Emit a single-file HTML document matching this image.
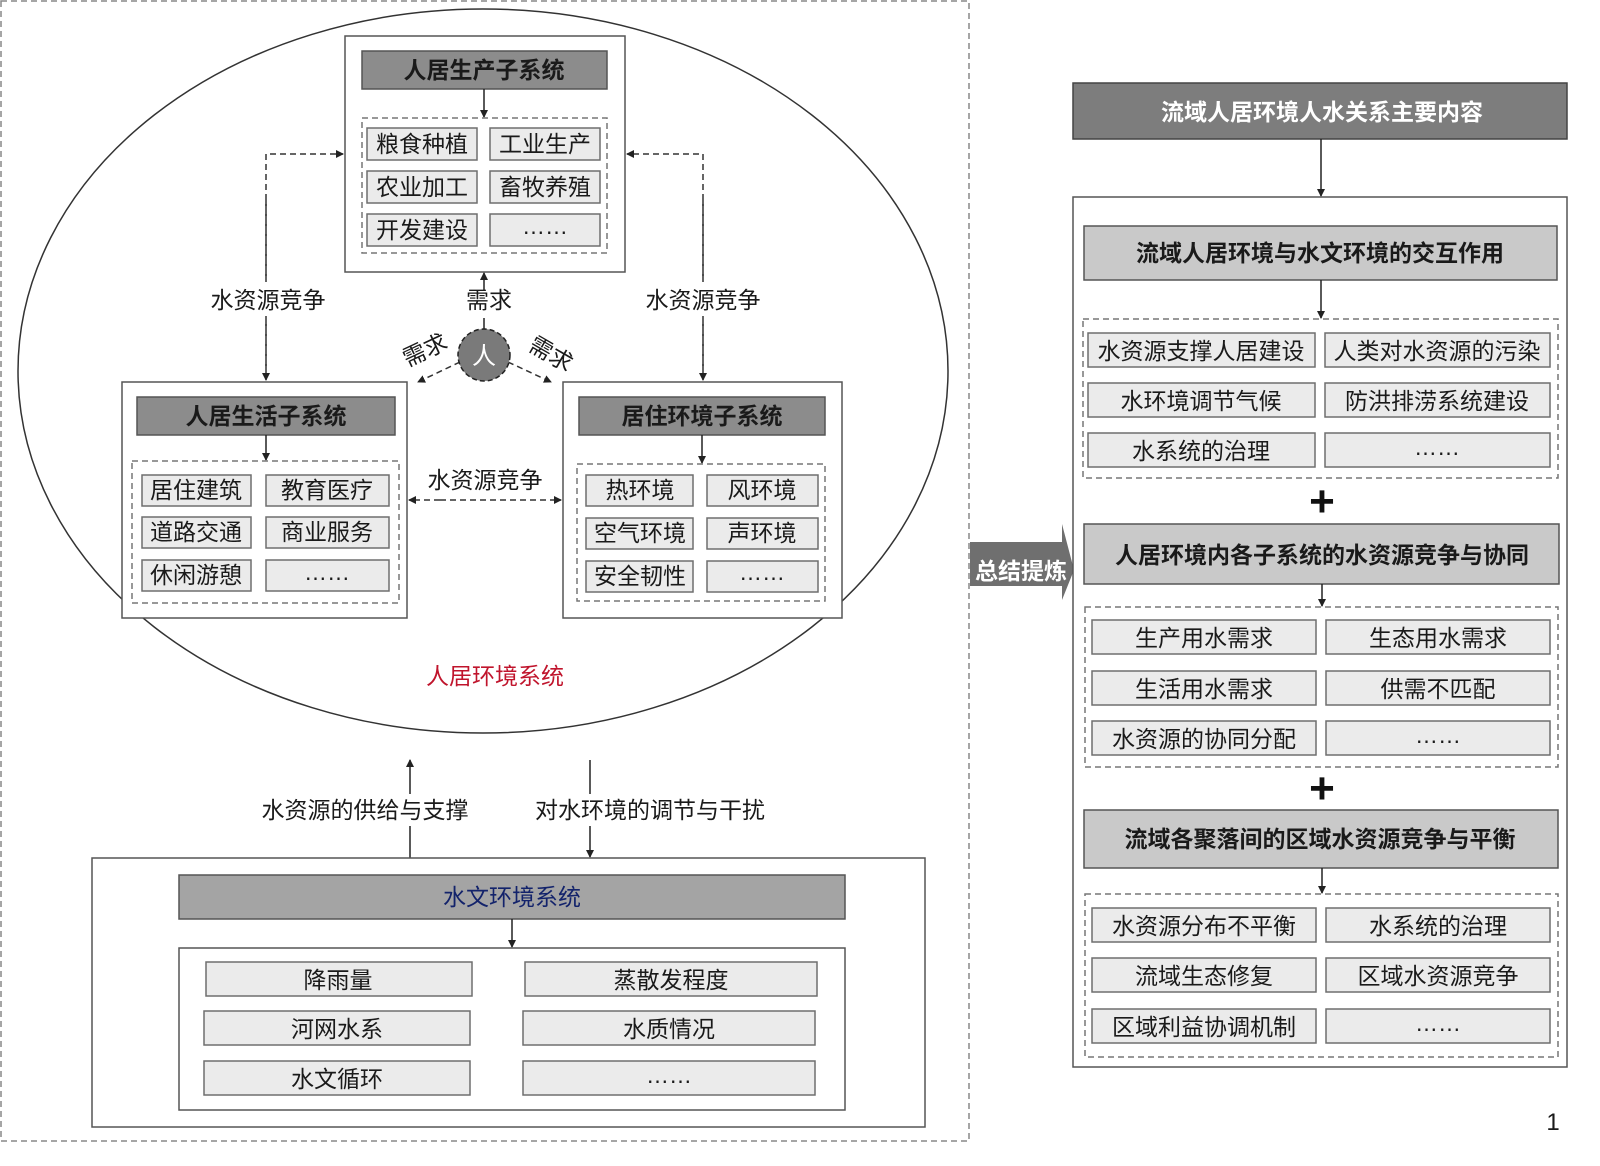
<!DOCTYPE html>
<html><head><meta charset="utf-8"><style>
html,body{margin:0;padding:0;background:#fff;}
svg{display:block;}
text{font-family:"Liberation Sans","Noto Sans CJK SC",sans-serif;fill:#1a1a1a;}
.c{fill:#ebebeb;stroke:#6e6e6e;stroke-width:1.5;}
.ct{font-size:23px;text-anchor:middle;}
.t{fill:#8c8c8c;stroke:#555;stroke-width:1.5;}
.tt{font-size:23px;font-weight:bold;text-anchor:middle;}
.h{fill:#c9c9c9;stroke:#555;stroke-width:1.5;}
.box{fill:#fff;stroke:#555;stroke-width:1.5;}
.dbox{fill:none;stroke:#777;stroke-width:1.5;stroke-dasharray:6,4;}
.ln{stroke:#222;stroke-width:1.5;fill:none;}
.dl{stroke:#333;stroke-width:1.5;fill:none;stroke-dasharray:6,4;}
.lb{font-size:23px;text-anchor:middle;}
</style></head><body>
<svg width="1600" height="1166" viewBox="0 0 1600 1166" xmlns="http://www.w3.org/2000/svg">
<defs>
<marker id="a" markerWidth="8" markerHeight="8" refX="7" refY="4" orient="auto" markerUnits="userSpaceOnUse"><path d="M0,0 L8,4 L0,8 z" fill="#222"/></marker>
</defs>
<rect x="1" y="1" width="968" height="1140" fill="none" stroke="#888" stroke-width="1.5" stroke-dasharray="6,4"/>
<ellipse cx="483" cy="371" rx="465" ry="362" fill="none" stroke="#333" stroke-width="1.5"/>

<rect class="box" x="345" y="36" width="280" height="236"/>
<rect class="t" x="362" y="51" width="245" height="38"/>
<text class="tt" x="484" y="78">人居生产子系统</text>
<line class="ln" x1="484" y1="89" x2="484" y2="117" marker-end="url(#a)"/>
<rect class="dbox" x="362" y="118" width="245" height="135"/>
<rect class="c" x="367" y="128" width="110" height="32"/><text class="ct" x="422" y="152">粮食种植</text>
<rect class="c" x="490" y="128" width="110" height="32"/><text class="ct" x="545" y="152">工业生产</text>
<rect class="c" x="367" y="171" width="110" height="32"/><text class="ct" x="422" y="195">农业加工</text>
<rect class="c" x="490" y="171" width="110" height="32"/><text class="ct" x="545" y="195">畜牧养殖</text>
<rect class="c" x="367" y="214" width="110" height="32"/><text class="ct" x="422" y="238">开发建设</text>
<rect class="c" x="490" y="214" width="110" height="32"/><text class="ct" x="545" y="234">……</text>

<rect class="box" x="122" y="382" width="285" height="236"/>
<rect class="t" x="137" y="397" width="258" height="38"/>
<text class="tt" x="266" y="424">人居生活子系统</text>
<line class="ln" x1="266" y1="435" x2="266" y2="460" marker-end="url(#a)"/>
<rect class="dbox" x="132" y="461" width="267" height="142"/>
<rect class="c" x="142" y="475" width="109" height="31"/><text class="ct" x="196" y="498">居住建筑</text>
<rect class="c" x="266" y="475" width="123" height="31"/><text class="ct" x="327" y="498">教育医疗</text>
<rect class="c" x="142" y="517" width="109" height="31"/><text class="ct" x="196" y="540">道路交通</text>
<rect class="c" x="266" y="517" width="123" height="31"/><text class="ct" x="327" y="540">商业服务</text>
<rect class="c" x="142" y="560" width="109" height="31"/><text class="ct" x="196" y="583">休闲游憩</text>
<rect class="c" x="266" y="560" width="123" height="31"/><text class="ct" x="327" y="580">……</text>

<rect class="box" x="563" y="382" width="279" height="236"/>
<rect class="t" x="579" y="397" width="246" height="38"/>
<text class="tt" x="702" y="424">居住环境子系统</text>
<line class="ln" x1="702" y1="435" x2="702" y2="463" marker-end="url(#a)"/>
<rect class="dbox" x="577" y="464" width="248" height="137"/>
<rect class="c" x="586" y="475" width="107" height="31"/><text class="ct" x="640" y="498">热环境</text>
<rect class="c" x="707" y="475" width="111" height="31"/><text class="ct" x="762" y="498">风环境</text>
<rect class="c" x="586" y="518" width="107" height="31"/><text class="ct" x="640" y="541">空气环境</text>
<rect class="c" x="707" y="518" width="111" height="31"/><text class="ct" x="762" y="541">声环境</text>
<rect class="c" x="586" y="561" width="107" height="31"/><text class="ct" x="640" y="584">安全韧性</text>
<rect class="c" x="707" y="561" width="111" height="31"/><text class="ct" x="762" y="580">……</text>

<path class="dl" d="M266,380 L266,154 L343,154" marker-end="url(#a)"/>
<line class="dl" x1="266" y1="200" x2="266" y2="380" marker-end="url(#a)"/>
<path class="dl" d="M703,380 L703,154 L627,154" marker-end="url(#a)"/>
<line class="dl" x1="703" y1="200" x2="703" y2="380" marker-end="url(#a)"/>
<rect x="200" y="282" width="135" height="34" fill="#fff"/>
<rect x="636" y="282" width="135" height="34" fill="#fff"/>
<text class="lb" x="268" y="308">水资源竞争</text>
<text class="lb" x="703" y="308">水资源竞争</text>
<line class="dl" x1="440" y1="500" x2="409" y2="500" marker-end="url(#a)"/>
<line class="dl" x1="530" y1="500" x2="561" y2="500" marker-end="url(#a)"/>
<line class="dl" x1="440" y1="500" x2="530" y2="500"/>
<text class="lb" x="485" y="488">水资源竞争</text>

<line class="ln" x1="484" y1="329" x2="484" y2="318"/>
<line class="ln" x1="484" y1="290" x2="484" y2="273" marker-end="url(#a)"/>
<text class="lb" x="489" y="308">需求</text>
<line class="dl" x1="460" y1="362" x2="418" y2="382" marker-end="url(#a)"/>
<line class="dl" x1="508" y1="362" x2="551" y2="382" marker-end="url(#a)"/>
<circle cx="484" cy="355" r="26" fill="#7a7a7a" stroke="#222" stroke-width="1.5" stroke-dasharray="5,3"/>
<text x="484" y="364" font-size="24" text-anchor="middle" style="fill:#fff">人</text>
<text class="lb" x="425" y="358" transform="rotate(-25 425 350)">需求</text>
<text class="lb" x="551" y="362" transform="rotate(30 551 354)">需求</text>

<text x="495" y="684" font-size="23" text-anchor="middle" style="fill:#c0142c">人居环境系统</text>

<line class="ln" x1="410" y1="858" x2="410" y2="760" marker-end="url(#a)"/>
<line class="ln" x1="590" y1="760" x2="590" y2="857" marker-end="url(#a)"/>
<rect x="250" y="794" width="232" height="32" fill="#fff"/>
<rect x="522" y="794" width="256" height="32" fill="#fff"/>
<text class="lb" x="365" y="818">水资源的供给与支撑</text>
<text class="lb" x="650" y="818">对水环境的调节与干扰</text>

<rect class="box" x="92" y="858" width="833" height="269"/>
<rect class="t" x="179" y="875" width="666" height="44" style="fill:#a4a4a4"/>
<text x="512" y="905" font-size="23" text-anchor="middle" style="fill:#13236b">水文环境系统</text>
<line class="ln" x1="512" y1="919" x2="512" y2="947" marker-end="url(#a)"/>
<rect class="box" x="179" y="948" width="666" height="162"/>
<rect class="c" x="206" y="962" width="266" height="34"/><text class="ct" x="338" y="988">降雨量</text>
<rect class="c" x="525" y="962" width="292" height="34"/><text class="ct" x="671" y="988">蒸散发程度</text>
<rect class="c" x="204" y="1011" width="266" height="34"/><text class="ct" x="337" y="1037">河网水系</text>
<rect class="c" x="523" y="1011" width="292" height="34"/><text class="ct" x="669" y="1037">水质情况</text>
<rect class="c" x="204" y="1061" width="266" height="34"/><text class="ct" x="337" y="1087">水文循环</text>
<rect class="c" x="523" y="1061" width="292" height="34"/><text class="ct" x="669" y="1083">……</text>

<path d="M970,542 L1062,542 L1062,524 L1074,570 L1062,600 L1062,586 L970,586 z" fill="#6f6f6f"/>
<text x="1021" y="579" font-size="23" font-weight="bold" text-anchor="middle" style="fill:#fff">总结提炼</text>

<rect x="1073" y="83" width="494" height="56" fill="#7d7d7d" stroke="#444" stroke-width="1.5"/>
<text class="tt" x="1322" y="120" style="fill:#fff">流域人居环境人水关系主要内容</text>
<line class="ln" x1="1321" y1="139" x2="1321" y2="196" marker-end="url(#a)"/>
<rect class="box" x="1073" y="197" width="494" height="870"/>

<rect class="h" x="1084" y="226" width="473" height="54"/>
<text class="tt" x="1320" y="261">流域人居环境与水文环境的交互作用</text>
<line class="ln" x1="1321" y1="280" x2="1321" y2="318" marker-end="url(#a)"/>
<rect class="dbox" x="1083" y="319" width="475" height="159"/>
<rect class="c" x="1088" y="333" width="227" height="34"/><text class="ct" x="1201" y="359">水资源支撑人居建设</text>
<rect class="c" x="1325" y="333" width="225" height="34"/><text class="ct" x="1437" y="359">人类对水资源的污染</text>
<rect class="c" x="1088" y="383" width="227" height="34"/><text class="ct" x="1201" y="409">水环境调节气候</text>
<rect class="c" x="1325" y="383" width="225" height="34"/><text class="ct" x="1437" y="409">防洪排涝系统建设</text>
<rect class="c" x="1088" y="433" width="227" height="34"/><text class="ct" x="1201" y="459">水系统的治理</text>
<rect class="c" x="1325" y="433" width="225" height="34"/><text class="ct" x="1437" y="455">……</text>
<text x="1322" y="516" font-size="44" font-weight="bold" text-anchor="middle" style="fill:#111">+</text>

<rect class="h" x="1084" y="524" width="475" height="60"/>
<text class="tt" x="1322" y="563">人居环境内各子系统的水资源竞争与协同</text>
<line class="ln" x1="1322" y1="584" x2="1322" y2="606" marker-end="url(#a)"/>
<rect class="dbox" x="1085" y="607" width="473" height="160"/>
<rect class="c" x="1092" y="620" width="224" height="34"/><text class="ct" x="1204" y="646">生产用水需求</text>
<rect class="c" x="1326" y="620" width="224" height="34"/><text class="ct" x="1438" y="646">生态用水需求</text>
<rect class="c" x="1092" y="671" width="224" height="34"/><text class="ct" x="1204" y="697">生活用水需求</text>
<rect class="c" x="1326" y="671" width="224" height="34"/><text class="ct" x="1438" y="697">供需不匹配</text>
<rect class="c" x="1092" y="721" width="224" height="34"/><text class="ct" x="1204" y="747">水资源的协同分配</text>
<rect class="c" x="1326" y="721" width="224" height="34"/><text class="ct" x="1438" y="743">……</text>
<text x="1322" y="803" font-size="44" font-weight="bold" text-anchor="middle" style="fill:#111">+</text>

<rect class="h" x="1084" y="810" width="474" height="58"/>
<text class="tt" x="1320" y="847">流域各聚落间的区域水资源竞争与平衡</text>
<line class="ln" x1="1322" y1="868" x2="1322" y2="893" marker-end="url(#a)"/>
<rect class="dbox" x="1085" y="894" width="473" height="163"/>
<rect class="c" x="1092" y="908" width="224" height="34"/><text class="ct" x="1204" y="934">水资源分布不平衡</text>
<rect class="c" x="1326" y="908" width="224" height="34"/><text class="ct" x="1438" y="934">水系统的治理</text>
<rect class="c" x="1092" y="958" width="224" height="34"/><text class="ct" x="1204" y="984">流域生态修复</text>
<rect class="c" x="1326" y="958" width="224" height="34"/><text class="ct" x="1438" y="984">区域水资源竞争</text>
<rect class="c" x="1092" y="1009" width="224" height="34"/><text class="ct" x="1204" y="1035">区域利益协调机制</text>
<rect class="c" x="1326" y="1009" width="224" height="34"/><text class="ct" x="1438" y="1031">……</text>

<text x="1553" y="1130" font-size="24" text-anchor="middle">1</text>
</svg>
</body></html>
